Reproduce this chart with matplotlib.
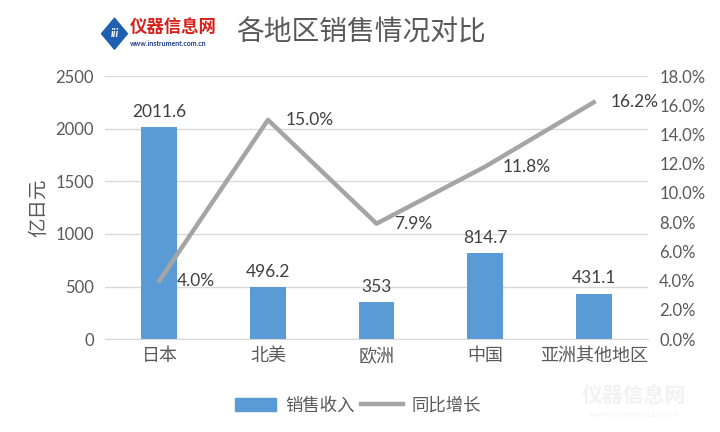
import matplotlib.pyplot as plt
from matplotlib.patches import Polygon
from matplotlib.lines import Line2D
from matplotlib.patches import Patch

plt.rcParams['font.family'] = ['Lato', 'Noto Sans CJK SC', 'DejaVu Sans']

regions = ['日本', '北美', '欧洲', '中国', '亚洲其他地区']
sales = [2011.6, 496.2, 353, 814.7, 431.1]
growth = [4.0, 15.0, 7.9, 11.8, 16.2]
sales_labels = ['2011.6', '496.2', '353', '814.7', '431.1']

fig = plt.figure(figsize=(7.2, 4.32), dpi=100)
ax = fig.add_axes([0.146, 0.215, 0.754, 0.609])
ax2 = ax.twinx()

x = list(range(len(regions)))
ax.bar(x, sales, width=0.33, color='#5B9BD5', zorder=2)
ax.set_xlim(-0.5, len(regions) - 0.5)
ax.set_ylim(0, 2500)
ax.set_yticks(range(0, 2501, 500))
ax.grid(axis='y', color='#D9D9D9', linewidth=1, zorder=0)
ax.set_axisbelow(True)
ax.set_xticks(x)
ax.set_xticklabels(regions, fontsize=13)
ax.set_ylabel('亿日元', color='#595959', fontsize=14, labelpad=6)
for s in ['top', 'right', 'left']:
    ax.spines[s].set_visible(False)
ax.spines['bottom'].set_color('#D9D9D9')
ax.tick_params(axis='y', length=0, labelsize=12, colors='#595959', pad=8)
ax.tick_params(axis='x', length=0, colors='#595959', pad=6)

for i, v in enumerate(sales):
    ax.text(i, v + 70, sales_labels[i], ha='center', va='bottom',
            fontsize=12.5, color='#404040')

ax2.plot(x, growth, color='#A5A5A5', linewidth=3.2, zorder=3)
ax2.set_ylim(0, 18)
ax2.set_yticks(range(0, 19, 2))
ax2.set_yticklabels([f'{t:.1f}%' for t in range(0, 19, 2)])
for s in ['top', 'right', 'left', 'bottom']:
    ax2.spines[s].set_visible(False)
ax2.tick_params(axis='y', length=0, labelsize=12, colors='#595959', pad=8)
for i, g in enumerate(growth):
    ax2.text(i + 0.16, g, f'{g:.1f}%', ha='left', va='center',
             fontsize=12.5, color='#404040')

# title and logo
fig.text(0.328, 0.925, '各地区销售情况对比', fontsize=20, color='#595959',
         va='center', ha='left', weight='light')
logo = Polygon([[0.141, 0.922], [0.159, 0.958], [0.177, 0.922], [0.159, 0.886]],
               closed=True, transform=fig.transFigure, color='#1F5FAF')
fig.patches.append(logo)
fig.text(0.159, 0.922, 'iii', fontsize=8, color='white', ha='center',
         va='center', style='italic', weight='bold')
fig.text(0.180, 0.938, '仪器信息网', fontsize=12.5, color='#D9201A',
         weight='bold', ha='left', va='center')
fig.text(0.180, 0.900, 'www.instrument.com.cn', fontsize=5, color='#1F3F8F',
         weight='bold', ha='left', va='center')

# faint watermark
fig.text(0.88, 0.082, '仪器信息网', fontsize=15, color='#F2F2F2',
         weight='bold', ha='center', va='center', zorder=0)
fig.text(0.88, 0.040, 'www.instrument.com.cn', fontsize=6, color='#F4F4F4',
         ha='center', va='center', zorder=0)

handles = [Patch(color='#5B9BD5'), Line2D([0], [0], color='#A5A5A5', linewidth=3.2)]
fig.legend(handles, ['销售收入', '同比增长'], loc='center', ncol=2,
           bbox_to_anchor=(0.497, 0.062), frameon=False, fontsize=12.5,
           labelcolor='#595959', handlelength=2.4, handleheight=0.8,
           columnspacing=0.4, handletextpad=0.5)

fig.savefig('out.png', dpi=100)
